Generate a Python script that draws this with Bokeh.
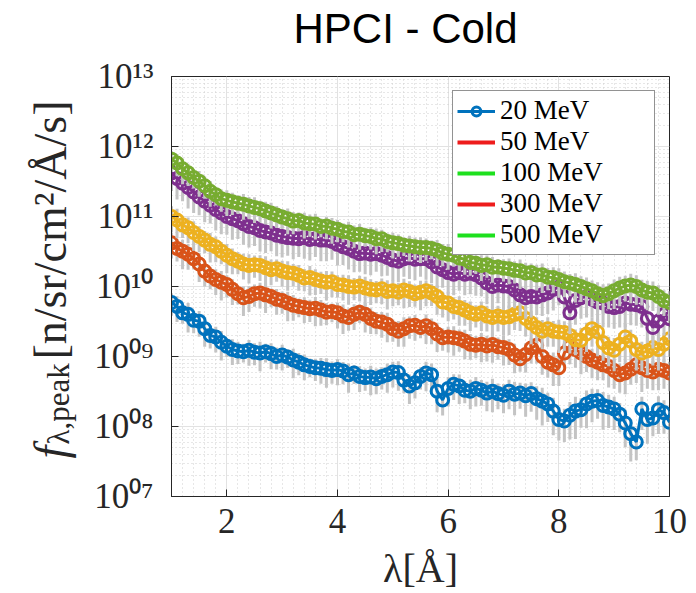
import numpy as np
from bokeh.plotting import figure
from bokeh.layouts import row, column
from bokeh.models import (Range1d, FixedTicker, CustomJSTickFormatter, Legend,
                          LegendItem, Label, ColumnDataSource)
from bokeh.embed import file_html
from bokeh.resources import INLINE

# wavelength bins [Angstrom]
lam = [round(1.0 + 0.1 * i, 1) for i in range(91)]

series_names = ["20 MeV", "50 MeV", "100 MeV", "300 MeV", "500 MeV"]

flux_20 = [5.9e9, 5.2e9, 4.2e9, 4.0e9, 3.3e9, 3.2e9, 2.5e9, 2.0e9, 1.9e9, 1.6e9,
           1.4e9, 1.26e9, 1.2e9, 1.17e9, 1.23e9, 1.15e9, 1.12e9, 1.17e9, 1.1e9, 1.0e9,
           1.05e9, 9.8e8, 8.9e8, 8.3e8, 7.6e8, 7.2e8, 6.9e8, 6.8e8, 6.5e8, 6.3e8,
           6.5e8, 6.2e8, 5.5e8, 5.8e8, 5.2e8, 5.0e8, 5.1e8, 4.8e8, 5.2e8, 5.5e8,
           6.0e8, 5.9e8, 4.6e8, 3.8e8, 4.2e8, 5.2e8, 5.8e8, 5.5e8, 3.2e8, 2.4e8,
           3.5e8, 4.0e8, 3.8e8, 3.3e8, 3.2e8, 3.5e8, 3.3e8, 3.0e8, 3.2e8, 2.95e8,
           2.8e8, 3.2e8, 2.9e8, 3.0e8, 2.75e8, 2.95e8, 2.5e8, 2.3e8, 2.1e8, 1.66e8,
           1.26e8, 1.2e8, 1.45e8, 1.66e8, 1.74e8, 2.1e8, 2.3e8, 2.35e8, 2.0e8, 1.9e8,
           1.78e8, 1.5e8, 1.12e8, 7.9e7, 6.0e7, 1.78e8, 1.26e8, 1.32e8, 1.74e8, 1.58e8,
           1.15e8]

flux_50 = [4.2e10, 3.5e10, 3.2e10, 2.9e10, 2.5e10, 2.1e10, 1.66e10, 1.41e10, 1.26e10, 1.15e10,
           1.07e10, 9.1e9, 7.9e9, 6.9e9, 7.2e9, 7.9e9, 8.1e9, 7.6e9, 7.2e9, 6.6e9,
           6.3e9, 5.8e9, 5.4e9, 5.2e9, 5.0e9, 4.8e9, 4.9e9, 4.6e9, 4.3e9, 4.4e9,
           4.2e9, 3.8e9, 3.6e9, 4.0e9, 4.3e9, 4.0e9, 3.5e9, 3.2e9, 3.1e9, 2.9e9,
           2.5e9, 2.3e9, 2.5e9, 2.75e9, 2.8e9, 2.6e9, 2.75e9, 2.5e9, 2.1e9, 1.86e9,
           1.9e9, 1.86e9, 1.8e9, 1.66e9, 1.5e9, 1.45e9, 1.5e9, 1.41e9, 1.48e9, 1.38e9,
           1.35e9, 1.26e9, 1.05e9, 9.3e8, 1.07e9, 1.32e9, 1.45e9, 1.0e9, 8.3e8, 7.6e8,
           6.9e8, 1.12e9, 1.41e9, 1.26e9, 1.12e9, 1.0e9, 8.9e8, 8.3e8, 7.6e8, 7.2e8,
           6.3e8, 5.5e8, 5.8e8, 6.6e8, 7.6e8, 6.9e8, 6.3e8, 6.0e8, 6.6e8, 6.3e8,
           5.8e8]

flux_100 = [1.0e11, 8.9e10, 7.6e10, 6.9e10, 5.9e10, 5.2e10, 4.6e10, 4.0e10, 3.7e10, 3.2e10,
            2.8e10, 2.5e10, 2.3e10, 2.1e10, 2.0e10, 2.05e10, 2.0e10, 1.86e10, 1.74e10, 1.8e10,
            1.66e10, 1.58e10, 1.55e10, 1.45e10, 1.32e10, 1.35e10, 1.26e10, 1.2e10, 1.15e10, 1.17e10,
            1.07e10, 1.05e10, 1.0e10, 9.8e9, 1.02e10, 9.5e9, 9.1e9, 8.9e9, 9.3e9, 8.5e9,
            8.7e9, 8.3e9, 8.9e9, 8.5e9, 7.9e9, 8.3e9, 8.7e9, 8.1e9, 7.2e9, 6.0e9,
            5.8e9, 5.2e9, 5.0e9, 4.6e9, 4.2e9, 4.0e9, 4.2e9, 3.8e9, 3.6e9, 3.8e9,
            3.6e9, 3.7e9, 4.0e9, 4.2e9, 3.5e9, 3.0e9, 2.6e9, 2.3e9, 2.5e9, 2.3e9,
            2.24e9, 2.2e9, 2.0e9, 1.74e9, 1.7e9, 2.1e9, 2.5e9, 2.24e9, 1.58e9, 1.32e9,
            1.23e9, 1.5e9, 1.9e9, 1.66e9, 1.26e9, 1.12e9, 1.2e9, 1.35e9, 1.26e9, 1.5e9,
            1.8e9]

flux_300 = [4.2e11, 3.5e11, 3.0e11, 2.6e11, 2.24e11, 1.9e11, 1.66e11, 1.45e11, 1.26e11, 1.12e11,
            1.0e11, 9.3e10, 8.7e10, 7.9e10, 7.2e10, 6.9e10, 6.3e10, 6.0e10, 5.8e10, 5.4e10,
            5.2e10, 5.0e10, 4.9e10, 4.8e10, 5.0e10, 4.7e10, 4.8e10, 4.6e10, 4.6e10, 4.4e10,
            4.0e10, 3.7e10, 3.5e10, 3.2e10, 2.95e10, 3.0e10, 2.9e10, 2.95e10, 2.8e10, 2.6e10,
            2.4e10, 2.3e10, 2.5e10, 2.57e10, 2.45e10, 2.5e10, 2.5e10, 2.24e10, 1.9e10, 1.74e10,
            1.58e10, 1.5e10, 1.58e10, 1.5e10, 1.55e10, 1.48e10, 1.32e10, 1.12e10, 1.0e10, 1.05e10,
            1.02e10, 1.0e10, 8.9e9, 7.6e9, 6.9e9, 7.2e9, 7.1e9, 7.6e9, 8.1e9, 9.1e9,
            9.8e9, 7.1e9, 4.2e9, 6.3e9, 6.9e9, 7.2e9, 6.6e9, 6.0e9, 5.8e9, 5.2e9,
            5.0e9, 5.2e9, 5.8e9, 5.6e9, 5.5e9, 5.2e9, 3.5e9, 2.6e9, 3.2e9, 4.0e9,
            3.47e9]

flux_500 = [6.6e11, 5.8e11, 4.8e11, 4.2e11, 3.6e11, 3.2e11, 2.75e11, 2.3e11, 2.05e11, 1.8e11,
            1.7e11, 1.62e11, 1.55e11, 1.5e11, 1.41e11, 1.35e11, 1.29e11, 1.2e11, 1.12e11, 1.05e11,
            9.8e10, 9.3e10, 8.6e10, 8.8e10, 8.1e10, 7.9e10, 7.8e10, 7.2e10, 7.3e10, 6.8e10,
            6.6e10, 6.1e10, 6.0e10, 5.5e10, 5.6e10, 5.3e10, 5.2e10, 4.8e10, 4.8e10, 4.4e10,
            4.2e10, 4.1e10, 3.9e10, 3.8e10, 3.7e10, 3.6e10, 3.6e10, 3.5e10, 3.3e10, 3.0e10,
            2.9e10, 2.8e10, 2.55e10, 2.45e10, 2.2e10, 2.15e10, 2.0e10, 2.05e10, 1.88e10, 1.9e10,
            1.82e10, 1.8e10, 1.7e10, 1.68e10, 1.56e10, 1.58e10, 1.46e10, 1.47e10, 1.36e10, 1.34e10,
            1.26e10, 1.17e10, 1.12e10, 1.07e10, 1.0e10, 9.3e9, 8.7e9, 7.9e9, 7.4e9, 7.9e9,
            8.7e9, 9.5e9, 1.02e10, 1.05e10, 1.0e10, 8.9e9, 8.3e9, 8.1e9, 7.2e9, 6.3e9,
            5.9e9]

# relative uncertainties (gray error bars)
relerr_20 = [0.35, 0.4, 0.3, 0.45, 0.35, 0.4, 0.45, 0.35, 0.4, 0.45,
             0.3, 0.4, 0.35, 0.3, 0.4, 0.35, 0.45, 0.3, 0.4, 0.35,
             0.4, 0.3, 0.45, 0.35, 0.4, 0.3, 0.35, 0.4, 0.45, 0.35,
             0.4, 0.35, 0.45, 0.3, 0.4, 0.35, 0.45, 0.4, 0.35, 0.45,
             0.4, 0.45, 0.35, 0.45, 0.4, 0.35, 0.45, 0.45, 0.5, 0.4,
             0.45, 0.4, 0.45, 0.35, 0.45, 0.45, 0.4, 0.45, 0.5, 0.4,
             0.45, 0.45, 0.5, 0.4, 0.5, 0.45, 0.5, 0.55, 0.45, 0.55,
             0.5, 0.5, 0.55, 0.6, 0.45, 0.55, 0.5, 0.45, 0.55, 0.5,
             0.5, 0.45, 0.55, 0.6, 0.45, 0.5, 0.55, 0.45, 0.55, 0.5,
             0.45]
relerr_50 = [0.4, 0.35, 0.45, 0.4, 0.3, 0.45, 0.4, 0.35, 0.4, 0.45,
             0.35, 0.4, 0.3, 0.45, 0.4, 0.35, 0.4, 0.45, 0.3, 0.4,
             0.35, 0.45, 0.4, 0.3, 0.4, 0.35, 0.45, 0.4, 0.35, 0.3,
             0.4, 0.45, 0.35, 0.4, 0.3, 0.45, 0.4, 0.35, 0.4, 0.45,
             0.35, 0.4, 0.45, 0.35, 0.4, 0.3, 0.45, 0.4, 0.45, 0.35,
             0.4, 0.45, 0.35, 0.45, 0.4, 0.35, 0.45, 0.4, 0.45, 0.35,
             0.45, 0.4, 0.45, 0.35, 0.45, 0.4, 0.45, 0.45, 0.4, 0.5,
             0.45, 0.4, 0.45, 0.45, 0.5, 0.4, 0.45, 0.45, 0.4, 0.5,
             0.45, 0.45, 0.5, 0.4, 0.45, 0.55, 0.45, 0.45, 0.5, 0.45,
             0.45]
relerr_100 = [0.4, 0.45, 0.35, 0.4, 0.45, 0.4, 0.35, 0.45, 0.4, 0.35,
              0.45, 0.4, 0.35, 0.4, 0.45, 0.35, 0.4, 0.45, 0.4, 0.35,
              0.4, 0.45, 0.35, 0.4, 0.35, 0.45, 0.4, 0.35, 0.45, 0.4,
              0.35, 0.4, 0.45, 0.35, 0.4, 0.45, 0.4, 0.35, 0.4, 0.45,
              0.4, 0.35, 0.45, 0.4, 0.35, 0.45, 0.4, 0.35, 0.45, 0.4,
              0.45, 0.35, 0.45, 0.4, 0.45, 0.35, 0.45, 0.4, 0.45, 0.4,
              0.45, 0.45, 0.4, 0.45, 0.45, 0.5, 0.4, 0.45, 0.45, 0.4,
              0.5, 0.45, 0.45, 0.4, 0.5, 0.45, 0.45, 0.55, 0.45, 0.45,
              0.5, 0.45, 0.55, 0.45, 0.5, 0.45, 0.55, 0.45, 0.5, 0.45,
              0.45]
relerr_300 = [0.45, 0.5, 0.45, 0.5, 0.5, 0.45, 0.5, 0.45, 0.5, 0.5,
              0.45, 0.5, 0.45, 0.5, 0.5, 0.45, 0.5, 0.5, 0.45, 0.5,
              0.5, 0.45, 0.5, 0.45, 0.5, 0.5, 0.45, 0.5, 0.5, 0.45,
              0.5, 0.45, 0.5, 0.5, 0.45, 0.5, 0.5, 0.45, 0.5, 0.45,
              0.5, 0.5, 0.45, 0.5, 0.5, 0.45, 0.5, 0.5, 0.5, 0.45,
              0.5, 0.5, 0.45, 0.5, 0.5, 0.5, 0.45, 0.5, 0.5, 0.45,
              0.5, 0.5, 0.45, 0.5, 0.5, 0.5, 0.45, 0.5, 0.5, 0.5,
              0.45, 0.5, 0.5, 0.55, 0.5, 0.5, 0.45, 0.5, 0.55, 0.5,
              0.5, 0.5, 0.55, 0.5, 0.5, 0.5, 0.55, 0.5, 0.5, 0.5,
              0.5]
relerr_500 = [0.3, 0.35, 0.4, 0.35, 0.3, 0.4, 0.35, 0.4, 0.3, 0.35,
              0.4, 0.35, 0.3, 0.4, 0.35, 0.4, 0.3, 0.35, 0.4, 0.35,
              0.3, 0.4, 0.35, 0.3, 0.4, 0.35, 0.4, 0.3, 0.35, 0.4,
              0.35, 0.3, 0.4, 0.35, 0.4, 0.3, 0.35, 0.4, 0.35, 0.3,
              0.4, 0.35, 0.3, 0.4, 0.35, 0.4, 0.35, 0.3, 0.4, 0.35,
              0.4, 0.3, 0.35, 0.4, 0.35, 0.3, 0.4, 0.35, 0.4, 0.3,
              0.35, 0.4, 0.35, 0.45, 0.4, 0.35, 0.4, 0.45, 0.35, 0.4,
              0.45, 0.4, 0.35, 0.45, 0.4, 0.45, 0.4, 0.45, 0.45, 0.4,
              0.45, 0.45, 0.4, 0.45, 0.45, 0.4, 0.45, 0.45, 0.45, 0.4,
              0.45]

y_ticks = [1e7, 1e8, 1e9, 1e10, 1e11, 1e12, 1e13]
x_ticks = [2, 4, 6, 8, 10]

data_colors = ["#0072BD", "#D95319", "#EDB120", "#7E2F8E", "#77AC30"]
legend_colors = ["#0072BD", "#EE1C1C", "#1EE01E", "#EE1C1C", "#1EE01E"]
fluxes = [flux_20, flux_50, flux_100, flux_300, flux_500]
relerrs = [relerr_20, relerr_50, relerr_100, relerr_300, relerr_500]

SERIF = "Liberation Serif"
DARK = "#262626"
LAB_W = 88
TOP_H = 54
TOTAL_W, TOTAL_H = 696, 593

# ---------------- title strip ----------------
head = figure(width=TOTAL_W, height=TOP_H, output_backend="svg", toolbar_location=None,
              x_range=Range1d(0, 1), y_range=Range1d(0, 1),
              min_border_left=171, min_border_right=27, min_border_top=0,
              min_border_bottom=0, x_axis_location=None, y_axis_location=None,
              outline_line_color=None, background_fill_color="white",
              border_fill_color="white")
head.grid.visible = False
head.add_layout(Label(x=234, y=26, x_units="screen", y_units="screen",
                      text="HPCI - Cold", text_font="Liberation Sans",
                      text_font_size="42px", text_color="black",
                      text_align="center", text_baseline="middle"))

# ---------------- main plot ----------------
p = figure(width=TOTAL_W - LAB_W, height=TOTAL_H - TOP_H, output_backend="svg",
           toolbar_location=None,
           y_axis_type="log", x_range=Range1d(1, 10), y_range=Range1d(1e7, 1e13),
           min_border_left=171 - LAB_W, min_border_right=27, min_border_top=76 - TOP_H,
           min_border_bottom=97, background_fill_color="white",
           border_fill_color="white")

for g in (p.xgrid, p.ygrid):
    g.grid_line_color = "#e2e2e2"
    g.grid_line_width = 1
    g.minor_grid_line_color = "#cfcfcf"
    g.minor_grid_line_dash = "1 3"
    g.minor_grid_line_width = 1

p.xaxis.ticker = FixedTicker(ticks=x_ticks,
                             minor_ticks=[round(1.0 + 0.2 * k, 1) for k in range(46)])
p.yaxis.ticker = FixedTicker(ticks=y_ticks,
                             minor_ticks=[m * 10.0 ** e for e in range(7, 13) for m in range(2, 10)])

p.yaxis.formatter = CustomJSTickFormatter(code="""
    const e = Math.round(Math.log10(tick));
    const sup = ['\u2070','\u00b9','\u00b2','\u00b3','\u2074','\u2075','\u2076','\u2077','\u2078','\u2079'];
    const s = (e < 10 ? '0' + e : String(e));
    let out = '10';
    for (const ch of s) { out += sup[parseInt(ch)]; }
    return out;
""")

for ax in (p.xaxis, p.yaxis):
    ax.major_label_text_font = SERIF
    ax.major_label_text_font_size = "35px"
    ax.major_label_text_color = DARK
    ax.major_tick_in = 7
    ax.major_tick_out = 0
    ax.major_tick_line_color = DARK
    ax.minor_tick_line_color = None
    ax.axis_line_color = DARK

p.yaxis.major_label_standoff = 14
p.xaxis.major_label_standoff = 8
p.xaxis.axis_label = "λ[Å]"
p.xaxis.axis_label_text_font = SERIF
p.xaxis.axis_label_text_font_size = "40px"
p.xaxis.axis_label_text_font_style = "normal"
p.xaxis.axis_label_text_color = DARK
p.xaxis.axis_label_standoff = 10

p.outline_line_color = DARK
p.outline_line_width = 1

sources = []
data_renderers = []
for flux, rel, col in zip(fluxes, relerrs, data_colors):
    f = np.array(flux)
    r = np.array(rel)
    src = ColumnDataSource(dict(x=lam, y=f, lo=f * (1 - r), hi=f * (1 + r)))
    sources.append(src)
    p.segment(x0="x", y0="lo", x1="x", y1="hi", source=src,
              line_color="#c4c4c4", line_width=3)
    ln = p.line("x", "y", source=src, line_color=col, line_width=3)
    sc = p.scatter("x", "y", source=src, marker="circle", size=12,
                   line_color=col, line_width=3, fill_color=None)
    data_renderers.append((ln, sc))

# legend (the reference legend shows plain lines in these colours)
items = [LegendItem(label=series_names[0], renderers=list(data_renderers[0]))]
for name, col, src in zip(series_names[1:], legend_colors[1:], sources[1:]):
    proxy = p.line("x", "y", source=src, line_color=col, line_width=4, visible=False)
    items.append(LegendItem(label=name, renderers=[proxy]))

legend = Legend(items=items, location="top_right", margin=14,
                label_text_font=SERIF, label_text_font_size="27px",
                label_text_color="black",
                glyph_width=38, glyph_height=22, label_height=22,
                label_width=150, spacing=0, padding=4,
                label_standoff=5, border_line_color=DARK,
                border_line_width=1, background_fill_color="white",
                background_fill_alpha=1.0, inactive_fill_alpha=0.0)
p.add_layout(legend)

# ---------------- y-axis label strip ----------------
lab = figure(width=LAB_W, height=TOTAL_H - TOP_H, output_backend="svg",
             toolbar_location=None,
             x_range=Range1d(0, 1), y_range=Range1d(0, 1),
             min_border_left=0, min_border_right=0, min_border_top=76 - TOP_H,
             min_border_bottom=97,
             x_axis_location=None, y_axis_location=None,
             outline_line_color=None, background_fill_color="white",
             border_fill_color="white")
lab.grid.visible = False

lab_kw = dict(x_units="screen", y_units="screen", angle=np.pi / 2,
              text_font=SERIF, text_color=DARK, text_align="left",
              text_baseline="alphabetic")
lab.add_layout(Label(x=50, y=38, text="f", text_font_size="46px",
                     text_font_style="italic", **lab_kw))
lab.add_layout(Label(x=58, y=52, text="λ,peak", text_font_size="31px", **lab_kw))
lab.add_layout(Label(x=50, y=137, text="[n/sr/cm²/Å/s]", text_font_size="46px",
                     **lab_kw))

layout = column(head, row(lab, p))
open("out.html", "w").write(file_html(layout, INLINE))
